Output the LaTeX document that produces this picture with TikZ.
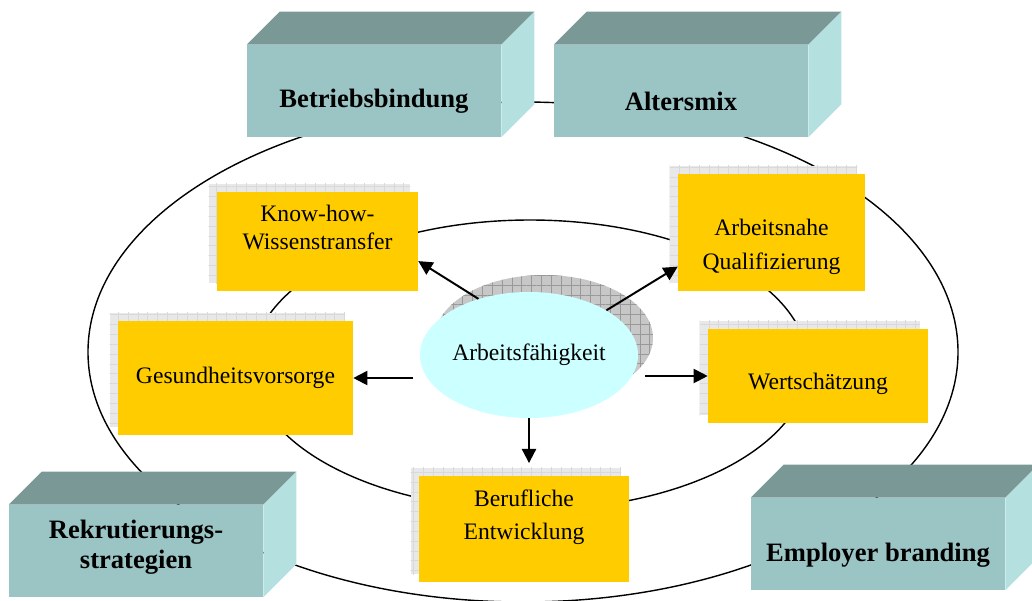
\documentclass[tikz,border=0pt]{standalone}
\usepackage{fontspec}
\setmainfont{Liberation Serif}
\usetikzlibrary{arrows.meta,positioning,calc,shapes.geometric,patterns.meta,backgrounds}

\definecolor{boxyellow}{HTML}{FFCC00}
\definecolor{corecyan}{HTML}{CCFFFF}
\definecolor{tealfront}{HTML}{9BC4C4}
\definecolor{tealtop}{HTML}{7A9996}
\definecolor{tealside}{HTML}{B4E0E0}

\begin{document}
\begin{tikzpicture}[x=0.025cm, y=-0.025cm,
    fieldbox/.style={fill=boxyellow, inner sep=0pt},
    fieldtext/.style={align=center, inner sep=0pt, font=\fontsize{16.8}{22}\selectfont},
    pillar/.style={fill=tealfront, minimum width=6.35cm, minimum height=2.3cm, inner sep=0pt},
    pillartext/.style={align=center, inner sep=0pt, font=\bfseries\fontsize{18.9}{21.5}\selectfont},
    gridshade/.style={fill=black!9, postaction={pattern={Hatch[angle=0,distance=7pt,line width=0.3pt]}, pattern color=black!15}},
    darkshade/.style={fill=black!22, postaction={pattern={Hatch[angle=0,distance=7pt,line width=0.4pt]}, pattern color=black!40}},
    arr/.style={-{Triangle[length=10pt,width=10pt]}, line width=1.4pt}]
    \useasboundingbox (0,0) rectangle (1032,600);

    % Pillars
    \node[pillar] (betrieb) at (374,91) {};
    \node[pillar] (alter) at (681,91) {};
    \node[pillar] (rekrut) at (136,551) {};
    \node[pillar] (employer) at (878,544) {};
    \foreach \p in {betrieb,alter,rekrut,employer} {
        \fill[tealtop] (\p.north west) -- ++(33,-33) -- ([shift={(33,-33)}]\p.north east) -- (\p.north east) -- cycle;
        \fill[tealside] (\p.north east) -- ++(33,-33) -- ([shift={(33,-33)}]\p.south east) -- (\p.south east) -- cycle;
    }
    \node[pillartext] (betrieb-t) at ([shift={(0,10)}]betrieb) {Betriebsbindung};
    \node[pillartext] (alter-t) at ([shift={(0,10)}]alter) {Altersmix};
    \node[pillartext] (rekrut-t) at ([shift={(0,-4)}]rekrut) {Rekrutierungs-\\strategien};
    \node[pillartext] (employer-t) at ([shift={(0,11)}]employer) {Employer branding};

    % Fields
    \node[fieldbox, minimum width=5.025cm, minimum height=2.475cm] (knowhow) at (317.5,241.5) {};
    \node[fieldbox, minimum width=4.675cm, minimum height=2.925cm] (qualif) at (771.5,232.5) {};
    \node[fieldbox, minimum width=5.875cm, minimum height=2.85cm] (gesund) at (235.5,378) {};
    \node[fieldbox, minimum width=5.5cm, minimum height=2.35cm] (wert) at (818,376) {};
    \node[fieldbox, minimum width=5.25cm, minimum height=2.65cm] (beruf) at (524,529) {};
    \node[fieldtext, font=\fontsize{16.8}{20}\selectfont] (knowhow-t) at ([shift={(0,-14)}]knowhow) {Know-how-\\Wissenstransfer};
    \node[fieldtext, font=\fontsize{16.8}{24}\selectfont] (qualif-t) at ([shift={(0,14)}]qualif) {Arbeitsnahe\\Qualifizierung};
    \node[fieldtext] (gesund-t) at (gesund) {Gesundheitsvorsorge};
    \node[fieldtext] (wert-t) at ([shift={(0,8)}]wert) {Wertschätzung};
    \node[fieldtext, font=\fontsize{16.8}{23.5}\selectfont] (beruf-t) at ([shift={(0,-12)}]beruf) {Berufliche\\Entwicklung};

    % Core
    \node[ellipse, fill=corecyan, minimum width=5.45cm, minimum height=3.15cm, inner sep=0pt,
        font=\fontsize{16.8}{22}\selectfont] (arbeit) at (529,355) {Arbeitsfähigkeit};

    % Rings and shadows
    \begin{scope}[on background layer]
        \draw[line width=1pt] (523,352) ellipse [x radius=435, y radius=250];
        \draw[line width=1pt] (530,365) ellipse [x radius=278, y radius=145];
        \foreach \f in {knowhow,qualif,gesund,wert,beruf}
            \fill[gridshade] ([shift={(-8,-8)}]\f.south west) rectangle ([shift={(-8,-8)}]\f.north east);
        \fill[darkshade] (544,338) ellipse [x radius=109, y radius=63];
    \end{scope}

    % Arrows
    \draw[arr] (arbeit.132) -- (knowhow.-11);
    \draw[arr] (arbeit.30) -- (qualif.200);
    \draw[arr, shorten <=5pt] (arbeit.west |- gesund) -- (gesund);
    \draw[arr, shorten <=5pt] (arbeit.east |- wert) -- (wert);
    \draw[arr, shorten >=9pt] (arbeit.south) -- (arbeit.south |- beruf.north);
\end{tikzpicture}
\end{document}
